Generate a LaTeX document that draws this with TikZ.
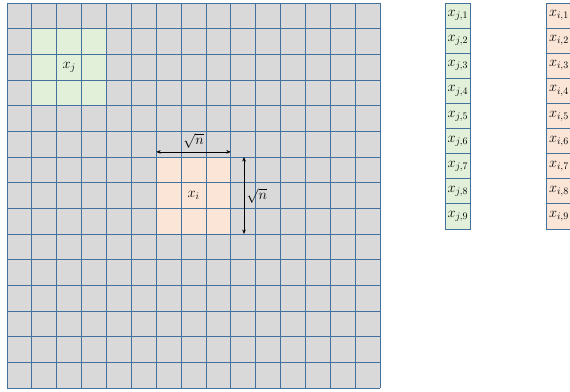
\documentclass[tikz,border=0pt]{standalone}
\usepackage{amsmath, amssymb}
\usetikzlibrary{arrows.meta}

\definecolor{cellgray}{HTML}{D9D9D9}
\definecolor{gridblue}{HTML}{41719C}
\definecolor{patchgreen}{HTML}{E2F0D9}
\definecolor{patchorange}{HTML}{FBE5D6}

\begin{document}
\begin{tikzpicture}[x=1pt,y=-1pt,
    vcell/.style={draw=gridblue, line width=0.8pt, minimum width=25.7pt, minimum height=25.1pt, inner sep=0pt, font=\Large},
    dimarrow/.style={thin, {Stealth[length=4.5pt,width=3.5pt]}-{Stealth[length=4.5pt,width=3.5pt]}}]
    \useasboundingbox (0,0) rectangle (570,391);

    \begin{scope}[shift={(7,3)}, x=24.87pt, y=-25.67pt]
        % Background cells and the two patches
        \fill[cellgray] (0,0) rectangle (15,15);
        \fill[patchgreen] (1,1) rectangle (4,4);
        \fill[patchorange] (6,6) rectangle (9,9);

        % Grid
        \foreach \i in {0,...,15} \draw[gridblue, line width=0.9pt] (\i,0) -- (\i,15);
        \foreach \i in {0,...,15} \draw[gridblue, line width=0.9pt] (0,\i) -- (15,\i);

        % Patch labels
        \node[font=\Large] (xj) at (2.5,2.5) {$x_j$};
        \node[font=\Large] (xi) at (7.5,7.5) {$x_i$};

        % Size of patch x_i
        \coordinate (hl) at (6,5.8);
        \coordinate (hr) at (9,5.8);
        \coordinate (vt) at (9.53,6);
        \coordinate (vb) at (9.53,9);
        \draw[dimarrow] (hl) -- (hr) node[midway, above=0pt, font=\Large] {$\sqrt{n}$};
        \draw[dimarrow] (vt) -- (vb) node[midway, right=-1pt, font=\Large] {$\sqrt{n}$};
    \end{scope}

    % Flattened patches
    \foreach \k in {1,...,9} \node[vcell, fill=patchgreen] (xj\k) at (457.9,{3+25.1*(\k-0.5)}) {$x_{j,\k}$};
    \foreach \k in {1,...,9} \node[vcell, fill=patchorange] (xi\k) at (558.9,{3+25.1*(\k-0.5)}) {$x_{i,\k}$};
\end{tikzpicture}
\end{document}
